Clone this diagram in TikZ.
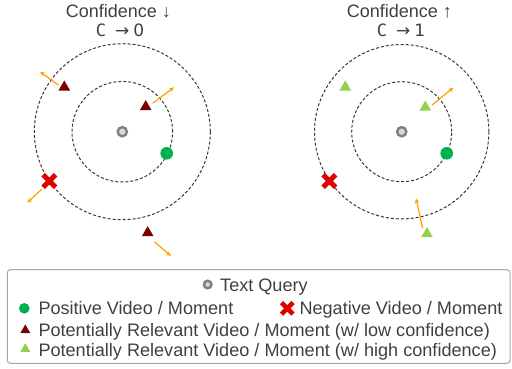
\documentclass[tikz,border=0pt]{standalone}
\usepackage{fontspec}
\setmainfont{Liberation Sans}
\newfontfamily\monof{DejaVu Sans Mono}
\newfontfamily\symf{DejaVu Sans}
\usetikzlibrary{shapes.geometric,shapes.misc,arrows.meta}
\definecolor{txt}{HTML}{404040}
\definecolor{ringc}{HTML}{383838}
\definecolor{qgray}{HTML}{808080}
\definecolor{qfill}{HTML}{D9D9D9}
\definecolor{posg}{HTML}{00B050}
\definecolor{negr}{HTML}{E00000}
\definecolor{lowc}{HTML}{7A0000}
\definecolor{highc}{HTML}{92D050}
\definecolor{arr}{HTML}{FFA000}
\definecolor{boxc}{HTML}{A6A6A6}
\begin{document}
\begin{tikzpicture}[x=1pt,y=-1pt,
 ring/.style={draw=ringc,dash pattern=on 3pt off 2pt,line width=1pt},
 query/.style={circle,draw=qgray,fill=qfill,line width=2.4pt,minimum size=9.2pt,inner sep=0},
 lquery/.style={query,line width=2.5pt,minimum size=7.5pt},
 posdot/.style={circle,fill=posg,minimum size=12.6pt,inner sep=0},
 lposdot/.style={posdot,minimum size=10.6pt},
 negx/.style={cross out,draw=negr,line width=5pt,minimum size=7.5pt,inner sep=0},
 lnegx/.style={negx,line width=4.6pt,minimum size=7pt},
 tri/.style={regular polygon,regular polygon sides=3,minimum size=13.5pt,inner sep=0},
 ltri/.style={regular polygon,regular polygon sides=3,minimum size=11.5pt,inner sep=0},
 lowtri/.style={tri,fill=lowc},
 hightri/.style={tri,fill=highc},
 movearrow/.style={draw=arr,line width=1.2pt,-{Stealth[length=5pt,width=4.5pt]}},
 titletext/.style={text=txt,font=\fontsize{18}{20}\selectfont,inner sep=0,anchor=base},
 ctext/.style={text=txt,font=\fontsize{17}{20}\selectfont,inner sep=0,anchor=base},
 legtext/.style={text=txt,font=\fontsize{18.1}{20}\selectfont,inner sep=0,anchor=base west},
]
\useasboundingbox (0,0) rectangle (512,368);

% ---------- left panel ----------
\node[titletext] (tl) at (118.3,17.3) {Confidence ↓};
\node[ctext] (cl) at (120,36.7) {{\monof C}\hspace{9pt}{\symf →\hspace{4pt}0}};
\node[circle,minimum size=100.6pt,inner sep=0,ring] (inL) at (122.3,131.7) {};
\node[circle,minimum size=176pt,inner sep=0,ring] (outL) at (122.3,131.7) {};
\node[query] (qL) at (122.3,131.7) {};
\node[posdot] (pL) at (166.7,153.3) {};
\node[negx] (nL) at (49.3,181) {};
\node[lowtri] (t1L) at (64.3,87.2) {};
\node[lowtri] (t2L) at (145.7,106.8) {};
\node[lowtri] (t3L) at (147.7,232.8) {};
\coordinate (a1s) at (58.3,85);   \coordinate (a1e) at (40,71.7);
\coordinate (a2s) at (152.7,103.3); \coordinate (a2e) at (174,87.3);
\coordinate (a3s) at (41.7,189.3); \coordinate (a3e) at (27.3,202.7);
\coordinate (a4s) at (154.3,241.7); \coordinate (a4e) at (171,256);
\draw[movearrow] (a1s) -- (a1e);
\draw[movearrow] (a2s) -- (a2e);
\draw[movearrow] (a3s) -- (a3e);
\draw[movearrow] (a4s) -- (a4e);

% ---------- right panel ----------
\node[titletext] (tr) at (399.3,17.3) {Confidence ↑};
\node[ctext] (cr) at (401,36.7) {{\monof C}\hspace{9pt}{\symf →\hspace{4pt}1}};
\node[circle,minimum size=100pt,inner sep=0,ring] (inR) at (401.7,131.7) {};
\node[circle,minimum size=174.4pt,inner sep=0,ring] (outR) at (401.7,131.7) {};
\node[query] (qR) at (401.7,131.7) {};
\node[posdot] (pR) at (446.7,153.3) {};
\node[negx] (nR) at (329.3,181) {};
\node[hightri] (t1R) at (345.3,87.2) {};
\node[hightri] (t2R) at (425.3,107.2) {};
\node[hightri] (t3R) at (427,233.8) {};
\coordinate (b1s) at (432,105);   \coordinate (b1e) at (453.3,87.7);
\coordinate (b2s) at (422.7,228.3); \coordinate (b2e) at (416,198.3);
\draw[movearrow] (b1s) -- (b1e);
\draw[movearrow] (b2s) -- (b2e);

% ---------- legend ----------
\draw[draw=boxc,line width=1pt,rounded corners=3pt] (7.3,269.7) rectangle (510,363.3);
\node[lquery] (lq) at (207.7,284.5) {};
\node[legtext] (lqt) at (220,291) {Text Query};
\node[lposdot] (lp) at (24.3,308.3) {};
\node[legtext] (lpt) at (38.3,314) {Positive Video / Moment};
\node[lnegx] (ln) at (287.3,308.3) {};
\node[legtext] (lnt) at (299.3,314) {Negative Video / Moment};
\node[ltri,fill=lowc] (ll) at (25.3,330.2) {};
\node[legtext] (llt) at (38.3,336) {Potentially Relevant Video / Moment (w/ low confidence)};
\node[ltri,fill=highc] (lh) at (25.3,349) {};
\node[legtext] (lht) at (38.3,356) {Potentially Relevant Video / Moment (w/ high confidence)};
\end{tikzpicture}
\end{document}
